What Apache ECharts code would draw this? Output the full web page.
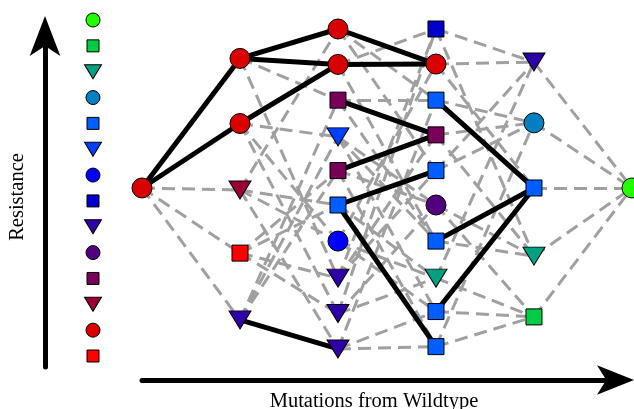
<!DOCTYPE html>
<html>
<head>
<meta charset="utf-8">
<script src="https://cdn.jsdelivr.net/npm/echarts/dist/echarts.min.js"></script>
<style>
  html, body { margin: 0; padding: 0; background: #ffffff; }
  #chart { width: 634px; height: 409px; }
</style>
</head>
<body>
<div id="chart"></div>
<script>
// Genotypes of a 5-site landscape ('1' = mutated site), grouped by number of mutations.
const genotypes = [
  '00000',
  '10000', '01000', '00100', '00010', '00001',
  '10100', '11000', '10001', '01001', '00011', '00110', '01100', '10010', '01010', '00101',
  '11010', '11100', '10101', '10011', '10110', '01011', '11001', '01110', '01101', '00111',
  '11110', '10111', '11101', '11011', '01111',
  '11111'
];

// Resistance of each genotype (same order as genotypes).
const resistance = [
  5.36,
  9.24, 7.29, 5.30, 3.41, 1.41,
  10.12, 9.06, 7.99, 6.89, 5.88, 4.85, 3.77, 2.66, 1.60, 0.54,
  10.12, 9.07, 7.99, 6.95, 5.88, 4.85, 3.77, 2.66, 1.66, 0.61,
  9.13, 7.31, 5.36, 3.32, 1.50,
  5.36
];

// Resistance class of each genotype (0 = lowest ... 13 = highest).
const level = [
  1,
  1, 1, 2, 0, 5,
  1, 1, 3, 8, 3, 9, 7, 5, 5, 5,
  6, 1, 9, 3, 9, 4, 9, 11, 9, 9,
  5, 10, 9, 11, 12,
  13
];

// Resistance classes shown in the key, lowest first.
const levelIds = ['0', '1', '2', '3', '4', '5', '6', '7', '8', '9', '10', '11', '12', '13'];

// ---- styling ----
const levelColors = [
  '#ff0000', '#d80000', '#9c0032', '#780058', '#520080', '#2e00a8', '#0000cc',
  '#0000ff', '#0040ff', '#005eff', '#0080c0', '#00a080', '#00cc44', '#22ff00'
];
const SHAPES = ['rect', 'circle', 'triangle'];
const NODE_SIZE = { rect: 16, circle: 20, triangle: [22, 18] };
const KEY_SIZE = { rect: 12, circle: 14, triangle: [17, 14] };
const FONT = "'Liberation Serif', 'DejaVu Serif', serif";

const shapeOf = lv => SHAPES[lv % 3];
const mutations = g => g.split('').filter(c => c === '1').length;

const nodes = genotypes.map((g, i) => ({
  x: mutations(g),
  y: resistance[i],
  lv: level[i],
  g: g
}));

// Single-mutation steps between neighbouring genotypes; neutral steps are drawn solid.
const dashedEdges = [];
const solidEdges = [];
for (let i = 0; i < nodes.length; i++) {
  for (let j = 0; j < nodes.length; j++) {
    if (nodes[j].x !== nodes[i].x + 1) continue;
    let diff = 0;
    for (let k = 0; k < 5; k++) if (nodes[i].g[k] !== nodes[j].g[k]) diff++;
    if (diff !== 1) continue;
    const seg = { coords: [[nodes[i].x, nodes[i].y], [nodes[j].x, nodes[j].y]] };
    (nodes[i].lv === nodes[j].lv ? solidEdges : dashedEdges).push(seg);
  }
}

const nodeSeries = levelIds.map((id, lv) => {
  const shape = shapeOf(lv);
  return {
    type: 'scatter',
    name: id,
    xAxisIndex: 0,
    yAxisIndex: 0,
    data: nodes.filter(n => n.lv === lv).map(n => [n.x, n.y]),
    symbol: shape,
    symbolSize: NODE_SIZE[shape],
    symbolRotate: shape === 'triangle' ? 180 : 0,
    itemStyle: { color: levelColors[lv], borderColor: '#000000', borderWidth: 1, opacity: 1 },
    emphasis: { disabled: true },
    clip: false,
    silent: true,
    z: 5
  };
});

const keySeries = {
  type: 'scatter',
  name: 'key',
  xAxisIndex: 1,
  yAxisIndex: 1,
  data: levelIds.map((id, lv) => {
    const shape = shapeOf(lv);
    return {
      value: [0.5, id],
      symbol: shape,
      symbolSize: KEY_SIZE[shape],
      symbolRotate: shape === 'triangle' ? 180 : 0,
      itemStyle: { color: levelColors[lv], borderColor: '#000000', borderWidth: 1, opacity: 1 }
    };
  }),
  emphasis: { disabled: true },
  clip: false,
  silent: true,
  z: 5
};

const chart = echarts.init(document.getElementById('chart'), null, { renderer: 'canvas' });
chart.setOption({
  animation: false,
  backgroundColor: '#ffffff',
  grid: [
    { left: 142, right: 18, top: 33, bottom: 42, containLabel: false, outerBoundsMode: 'none' },
    { left: 83, width: 20, top: 20, bottom: 53, containLabel: false, outerBoundsMode: 'none' }
  ],
  xAxis: [
    {
      type: 'value', gridIndex: 0, min: 0, max: 4.837, offset: 13,
      name: 'Mutations from Wildtype', nameLocation: 'middle', nameGap: 11,
      nameTextStyle: { fontFamily: FONT, fontSize: 20.5, color: '#000000', padding: [0, 10, 0, 0] },
      axisLine: {
        show: true, onZero: false, lineStyle: { color: '#000000', width: 5 },
        symbol: ['none', 'arrow'], symbolSize: [22, 37], symbolOffset: [0, 18]
      },
      axisTick: { show: false }, axisLabel: { show: false }, splitLine: { show: false }
    },
    { type: 'value', gridIndex: 1, min: 0, max: 1, show: false }
  ],
  yAxis: [
    {
      type: 'value', gridIndex: 0, min: 0, max: 10, offset: 97,
      name: 'Resistance', nameLocation: 'middle', nameGap: 17, nameRotate: 90,
      nameTextStyle: { fontFamily: FONT, fontSize: 20.5, color: '#000000', padding: [0, 0, 0, 6] },
      axisLine: {
        show: true, onZero: false, lineStyle: { color: '#000000', width: 5 },
        symbol: ['none', 'arrow'], symbolSize: [23, 40], symbolOffset: [0, 17]
      },
      axisTick: { show: false }, axisLabel: { show: false }, splitLine: { show: false }
    },
    { type: 'category', gridIndex: 1, data: levelIds, boundaryGap: false, show: false }
  ],
  series: [
    {
      type: 'lines', coordinateSystem: 'cartesian2d', xAxisIndex: 0, yAxisIndex: 0,
      data: dashedEdges,
      lineStyle: { color: '#a0a0a0', width: 3, type: [13, 7], opacity: 1, curveness: 0 },
      emphasis: { disabled: true }, silent: true, clip: false, z: 1
    },
    {
      type: 'lines', coordinateSystem: 'cartesian2d', xAxisIndex: 0, yAxisIndex: 0,
      data: solidEdges,
      lineStyle: { color: '#000000', width: 5, type: 'solid', opacity: 1, curveness: 0 },
      emphasis: { disabled: true }, silent: true, clip: false, z: 2
    },
    ...nodeSeries,
    keySeries
  ]
});
</script>
</body>
</html>
